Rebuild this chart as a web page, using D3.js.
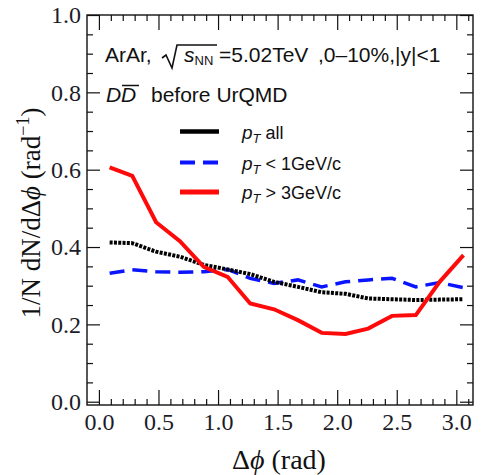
<!DOCTYPE html>
<html><head><meta charset="utf-8">
<script src="https://cdn.jsdelivr.net/npm/d3@7"></script>
<style>body{margin:0;background:#fff} svg{display:block}</style>
</head><body><svg id="c" width="481" height="475"></svg>
<script>
// Data
const dphi   = [0.09,0.28,0.48,0.68,0.88,1.08,1.27,1.47,1.67,1.87,2.07,2.26,2.46,2.66,2.86,3.06];
const ptAll  = [0.412,0.410,0.388,0.375,0.354,0.342,0.330,0.310,0.297,0.283,0.279,0.267,0.265,0.263,0.264,0.265];
const ptLow  = [0.332,0.341,0.336,0.335,0.336,0.342,0.319,0.306,0.315,0.297,0.310,0.315,0.319,0.297,0.308,0.295];
const ptHigh = [0.606,0.584,0.464,0.415,0.349,0.323,0.254,0.239,0.211,0.178,0.175,0.189,0.222,0.224,0.310,0.379];
const xTicks = [0,0.5,1,1.5,2,2.5,3];
const xTickLabels = ["0.0","0.5","1.0","1.5","2.0","2.5","3.0"];
const yTicks = [0,0.2,0.4,0.6,0.8,1.0];
const yTickLabels = ["0.0","0.2","0.4","0.6","0.8","1.0"];
const seriesNames = ["all","< 1GeV/c","> 3GeV/c"];

const svg = d3.select("#c");
const L = 87, R = 473, T = 15, B = 405;
const x = d3.scaleLinear().domain([-0.1, 3.14]).range([L, R]);
const y = d3.scaleLinear().domain([-0.0085, 1.0]).range([B, T]);

const xMinor = d3.range(0, 3.15, 0.1).filter(v => !xTicks.some(t => Math.abs(t - v) < 1e-6));
const yMinor = d3.range(0, 1.001, 0.05).filter(v => !yTicks.some(t => Math.abs(t - v) < 1e-6));

const serif = "'Liberation Serif','Times New Roman',serif";
const sans = "'Liberation Sans',Arial,sans-serif";
const tickCol = "#1c1c28";

function styleAxis(g){
  g.select(".domain").remove();
  g.selectAll("line").attr("stroke","#111").attr("stroke-width",1.2);
  g.selectAll("text").attr("font-family",serif).attr("font-size",24).attr("fill",tickCol);
}
// bottom
svg.append("g").attr("transform",`translate(0,${B})`)
  .call(d3.axisBottom(x).tickValues(xTicks).tickSize(-15).tickPadding(8)
        .tickFormat((d,i)=>xTickLabels[i])).call(styleAxis);
svg.append("g").attr("transform",`translate(0,${B})`)
  .call(d3.axisBottom(x).tickValues(xMinor).tickSize(-6).tickFormat("")).call(styleAxis);
// top
svg.append("g").attr("transform",`translate(0,${T})`)
  .call(d3.axisTop(x).tickValues(xTicks).tickSize(-15).tickFormat("")).call(styleAxis);
svg.append("g").attr("transform",`translate(0,${T})`)
  .call(d3.axisTop(x).tickValues(xMinor).tickSize(-6).tickFormat("")).call(styleAxis);
// left
svg.append("g").attr("transform",`translate(${L},0)`)
  .call(d3.axisLeft(y).tickValues(yTicks).tickSize(-13).tickPadding(6)
        .tickFormat((d,i)=>yTickLabels[i])).call(styleAxis);
svg.append("g").attr("transform",`translate(${L},0)`)
  .call(d3.axisLeft(y).tickValues(yMinor).tickSize(-6).tickFormat("")).call(styleAxis);
// right
svg.append("g").attr("transform",`translate(${R},0)`)
  .call(d3.axisRight(y).tickValues(yTicks).tickSize(-13).tickFormat("")).call(styleAxis);
svg.append("g").attr("transform",`translate(${R},0)`)
  .call(d3.axisRight(y).tickValues(yMinor).tickSize(-6).tickFormat("")).call(styleAxis);

// frame
svg.append("rect").attr("x",L).attr("y",T).attr("width",R-L).attr("height",B-T)
  .attr("fill","none").attr("stroke","#111").attr("stroke-width",1.4);

// lines
const line = d3.line().x((d,i)=>x(dphi[i])).y(d=>y(d));
svg.append("path").datum(ptLow).attr("d",line).attr("fill","none")
  .attr("stroke","#0a14ff").attr("stroke-width",3.5).attr("stroke-dasharray","15,8");
svg.append("path").datum(ptAll).attr("d",line).attr("fill","none")
  .attr("stroke","#000").attr("stroke-width",4).attr("stroke-dasharray","3,1.3");
svg.append("path").datum(ptHigh).attr("d",line).attr("fill","none")
  .attr("stroke","#ff0a0a").attr("stroke-width",4);

// annotation line 1
const a1 = svg.append("g").attr("font-family",sans).attr("font-size",21).attr("fill","#111");
a1.append("text").attr("x",105).attr("y",62).text("ArAr,");
a1.append("path").attr("d","M162,58 L166,55 L172,68 L177,45 L217,45")
  .attr("fill","none").attr("stroke","#111").attr("stroke-width",1.6);
const s1 = a1.append("text").attr("x",184).attr("y",62);
s1.append("tspan").attr("font-style","italic").text("s");
s1.append("tspan").attr("font-size",13).attr("dy",3).text("NN");
a1.append("text").attr("x",219).attr("y",62).text("=5.02TeV");
a1.append("text").attr("x",318).attr("y",62).text(",0–10%,|y|<1");

// annotation line 2
const a2 = svg.append("g").attr("font-family",sans).attr("font-size",21).attr("fill","#111");
a2.append("text").attr("x",106).attr("y",102).attr("font-style","italic").text("D");
a2.append("text").attr("x",121).attr("y",102).attr("font-style","italic").text("D");
a2.append("line").attr("x1",122).attr("x2",139).attr("y1",85.5).attr("y2",85.5)
  .attr("stroke","#111").attr("stroke-width",1.5);
a2.append("text").attr("x",151).attr("y",102).text("before UrQMD");

// legend
const legY = [131.5, 162.5, 192];
const legStyles = [
  {c:"#000", w:4.5, d:null},
  {c:"#0a14ff", w:4, d:"15,8"},
  {c:"#ff0a0a", w:5, d:null}
];
const leg = svg.append("g").attr("font-family",sans).attr("font-size",18).attr("fill","#111");
seriesNames.forEach((n,i)=>{
  const ln = leg.append("line").attr("x1",180).attr("x2",219).attr("y1",legY[i]).attr("y2",legY[i])
    .attr("stroke",legStyles[i].c).attr("stroke-width",legStyles[i].w);
  if (legStyles[i].d) ln.attr("stroke-dasharray",legStyles[i].d);
  const t = leg.append("text").attr("x",242).attr("y",legY[i]+7);
  t.append("tspan").attr("font-style","italic").attr("font-size",19).text("p");
  t.append("tspan").attr("font-style","italic").attr("font-size",13).attr("dy",4).text("T");
  t.append("tspan").attr("dy",-4).text(" " + n);
});

// axis titles
const xt = svg.append("text").attr("x",279).attr("y",469).attr("text-anchor","middle")
  .attr("font-family",serif).attr("font-size",28).attr("fill","#111");
xt.append("tspan").text("Δ");
xt.append("tspan").attr("font-style","italic").text("ϕ");
xt.append("tspan").text(" (rad)");

const yt = svg.append("text").attr("transform","translate(40,213) rotate(-90)")
  .attr("text-anchor","middle").attr("font-family",serif).attr("font-size",27).attr("fill","#111");
yt.append("tspan").text("1/N dN/dΔ");
yt.append("tspan").attr("font-style","italic").text("ϕ");
yt.append("tspan").text(" (rad");
yt.append("tspan").attr("font-size",18).attr("dy",-11).text("−1");
yt.append("tspan").attr("dy",11).text(")");
</script></body></html>
